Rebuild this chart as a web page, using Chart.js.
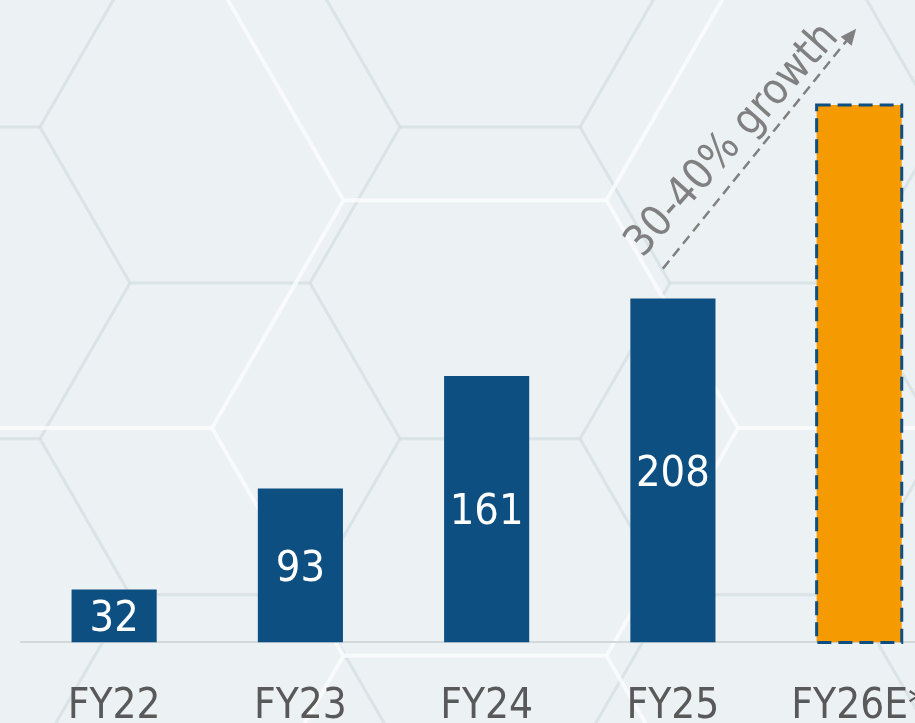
<!DOCTYPE html>
<html>
<head>
<meta charset="utf-8">
<script src="https://cdn.jsdelivr.net/npm/chart.js@4.4.1/dist/chart.umd.min.js"></script>
<style>
  html, body { margin: 0; padding: 0; overflow: hidden; background: #ecf1f4; }
  #wrap { width: 915px; height: 723px; overflow: hidden; position: relative; }
  canvas { display: block; }
</style>
</head>
<body>
<div id="wrap"><canvas id="c" width="975" height="772" style="width:975px;height:772px"></canvas></div>
<script>
// ---- data ----
const categories = ['FY22', 'FY23', 'FY24', 'FY25', 'FY26E*'];
const revenue = [32, 93, 161, 208, 325];
const valueLabels = ['32', '93', '161', '208', ''];
const growthLabel = '30-40% growth';
const estimateIndex = 4;

const FONT = '"Liberation Sans Narrow", "DejaVu Sans Condensed", "Arial Narrow", sans-serif';
const BLUE = '#0e4f82';
const ORANGE = '#f59a00';

function hexLattice(ctx, cx, cy, R, color, width, w, h) {
  ctx.save();
  ctx.strokeStyle = color;
  ctx.lineWidth = width;
  ctx.lineJoin = 'round';
  const dx = 1.5 * R, dy = Math.sqrt(3) * R;
  for (let i = -4; i <= 4; i++) {
    for (let j = -4; j <= 4; j++) {
      const x = cx + i * dx;
      const y = cy + j * dy + ((Math.abs(i) % 2) ? dy / 2 : 0);
      if (x < -2 * R || x > w + 2 * R || y < -2 * R || y > h + 2 * R) continue;
      ctx.beginPath();
      for (let k = 0; k < 6; k++) {
        const a = Math.PI / 3 * k;
        const px = x + R * Math.cos(a), py = y + R * Math.sin(a);
        if (k === 0) ctx.moveTo(px, py); else ctx.lineTo(px, py);
      }
      ctx.closePath();
      ctx.stroke();
    }
  }
  ctx.restore();
}

const backgroundPlugin = {
  id: 'bg',
  beforeDraw(chart) {
    const ctx = chart.ctx;
    const w = chart.width, h = chart.height;
    ctx.save();
    ctx.fillStyle = '#ecf1f4';
    ctx.fillRect(0, 0, w, h);
    hexLattice(ctx, 220, 127, 180, 'rgba(205,218,222,0.35)', 3, w, h);
    hexLattice(ctx, 475, 428, 263, 'rgba(250,252,253,0.6)', 4, w, h);
    ctx.restore();
  }
};

const overlayPlugin = {
  id: 'overlay',
  afterDatasetsDraw(chart) {
    const ctx = chart.ctx;
    const meta = chart.getDatasetMeta(0);
    const x = chart.scales.x, y = chart.scales.y;
    ctx.save();
    // value labels centred in bars
    ctx.fillStyle = '#ffffff';
    ctx.font = '43px ' + FONT;
    ctx.textAlign = 'center';
    ctx.textBaseline = 'middle';
    meta.data.forEach((bar, i) => {
      if (!valueLabels[i]) return;
      ctx.fillText(valueLabels[i], bar.x, (bar.y + bar.base) / 2 + 4);
    });
    // dashed border on the estimate bar
    const eb = meta.data[estimateIndex];
    const half = eb.width / 2;
    ctx.strokeStyle = BLUE;
    ctx.lineWidth = 3;
    ctx.setLineDash([14, 7]);
    ctx.strokeRect(eb.x - half, eb.y, eb.width, eb.base - eb.y);
    ctx.setLineDash([]);
    // growth arrow
    const x0 = x.getPixelForValue(3) - 10, y0 = y.getPixelForValue(226);
    const x1 = x.getPixelForValue(4) - 3, y1 = y.getPixelForValue(371);
    const ang = Math.atan2(y1 - y0, x1 - x0);
    const len = Math.hypot(x1 - x0, y1 - y0);
    ctx.translate(x0, y0);
    ctx.rotate(ang);
    ctx.strokeStyle = '#808080';
    ctx.fillStyle = '#808080';
    ctx.lineWidth = 2.5;
    ctx.setLineDash([10, 6]);
    ctx.beginPath();
    ctx.moveTo(0, 0);
    ctx.lineTo(len - 12, 0);
    ctx.stroke();
    ctx.setLineDash([]);
    ctx.beginPath();
    ctx.moveTo(len, 0);
    ctx.lineTo(len - 16, -7);
    ctx.lineTo(len - 16, 7);
    ctx.closePath();
    ctx.fill();
    ctx.rotate(0.05);
    ctx.font = '43px ' + FONT;
    ctx.textAlign = 'left';
    ctx.textBaseline = 'alphabetic';
    ctx.fillText(growthLabel, -6, -22);
    ctx.restore();
  }
};

new Chart(document.getElementById('c'), {
  type: 'bar',
  data: {
    labels: categories,
    datasets: [{
      data: revenue,
      backgroundColor: revenue.map((v, i) => i === estimateIndex ? ORANGE : BLUE),
      borderWidth: 0,
      barPercentage: 0.457,
      categoryPercentage: 1
    }]
  },
  options: {
    responsive: false,
    animation: false,
    devicePixelRatio: 1,
    layout: { padding: { top: 47, left: 21, right: 0, bottom: 0 } },
    plugins: { legend: { display: false }, tooltip: { enabled: false } },
    scales: {
      x: {
        grid: { display: false, drawTicks: false },
        border: { display: true, color: '#d3d8db', width: 2 },
        ticks: {
          color: '#595959',
          padding: 48,
          maxRotation: 0,
          autoSkip: false,
          font: { family: FONT, size: 42, lineHeight: 0.8 }
        }
      },
      y: { display: false, min: 0, max: 360 }
    }
  },
  plugins: [backgroundPlugin, overlayPlugin]
});
</script>
</body>
</html>
